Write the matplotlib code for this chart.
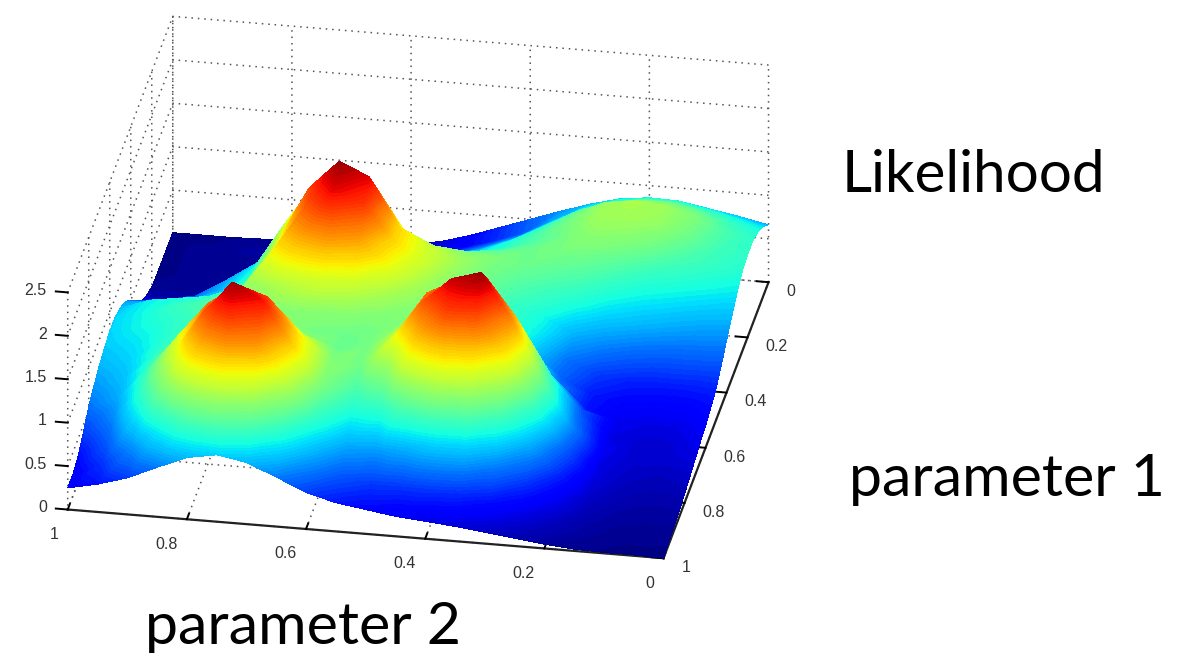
"""Likelihood surface over two parameters"""

import matplotlib

matplotlib.use("Agg")
import matplotlib.pyplot as plt
import matplotlib.tri as mtri
import numpy as np
from mpl_toolkits.mplot3d import proj3d

# Grid positions
param_1 = [i / 20 for i in range(21)]
param_2 = [1 - i / 20 for i in range(21)]
param_ticks = [0, 0.2, 0.4, 0.6, 0.8, 1]
param_tick_labels = ["0", "0.2", "0.4", "0.6", "0.8", "1"]
height_ticks = [0, 0.5, 1, 1.5, 2, 2.5]
height_tick_labels = ["0", "0.5", "1", "1.5", "2", "2.5"]

# Heights: one row per param_1, one column per param_2
likelihood = [
    [.01, .01, .01, .02, .02, .02, .03, .03, .1, .16, .26, .38, .5, .62, .73, .82, .86, .85, .79, .73, .66],
    [.01, .02, .04, .05, .05, .06, .07, .08, .13, .2, .28, .38, .5, .68, .84, .94, 1.0, 1.0, .94, .87, .8],
    [.01, .02, .03, .03, .04, .08, .13, .2, .22, .3, .4, .5, .62, .8, .98, 1.1, 1.15, 1.15, 1.08, .98, .9],
    [.01, .02, .03, .04, .06, .15, .3, .35, .35, .42, .52, .62, .75, .92, 1.1, 1.25, 1.3, 1.27, 1.18, 1.03, .95],
    [.02, .03, .04, .07, .2, .45, .58, .65, .52, .58, .65, .75, .88, 1.02, 1.15, 1.27, 1.28, 1.25, 1.13, 1.0, .95],
    [.08, .06, .06, .15, .45, .8, 1.0, 1.05, .95, .9, .85, .85, .95, 1.05, 1.14, 1.22, 1.2, 1.13, 1.03, .97, .92],
    [.18, .16, .15, .35, .75, 1.2, 1.48, 1.6, 1.56, 1.1, 1.05, 1.05, 1.08, 1.12, 1.15, 1.13, 1.07, .97, .93, .88, .83],
    [.3, .38, .45, .65, .85, 1.37, 1.85, 2.08, 1.9, 1.4, 1.25, 1.2, 1.17, 1.12, 1.08, 1.03, .93, .85, .8, .75, .72],
    [.5, .5, .55, .7, .9, 1.38, 1.97, 2.3, 2.15, 1.6, 1.4, 1.27, 1.13, 1.05, .98, .9, .78, .72, .66, .62, .6],
    [.65, .68, .7, .78, .95, 1.4, 1.9, 2.15, 2.0, 1.6, 1.4, 1.21, 1.08, .97, .88, .7, .6, .52, .48, .48, .47],
    [.73, .85, .9, .95, 1.05, 1.48, 1.7, 1.82, 1.72, 1.5, 1.3, 1.15, 1.05, .95, .84, .55, .42, .36, .34, .34, .36],
    [.78, .87, .97, 1.03, 1.13, 1.26, 1.37, 1.43, 1.39, 1.29, 1.21, 1.15, 1.11, .98, .72, .5, .34, .28, .26, .26, .3],
    [.78, .86, .93, 1.01, 1.08, 1.17, 1.21, 1.21, 1.2, 1.17, 1.19, 1.3, 1.33, 1.22, .95, .58, .32, .22, .2, .2, .25],
    [.75, .81, .92, 1.03, 1.11, 1.19, 1.18, 1.14, 1.12, 1.14, 1.27, 1.58, 1.73, 1.65, 1.3, .85, .48, .2, .16, .17, .22],
    [.7, .77, .94, 1.13, 1.31, 1.38, 1.32, 1.2, 1.11, 1.15, 1.37, 1.85, 2.02, 2.08, 1.65, 1.05, .55, .22, .16, .16, .18],
    [.63, .73, .98, 1.29, 1.59, 1.72, 1.68, 1.42, 1.18, 1.14, 1.45, 1.9, 2.2, 2.3, 1.8, 1.15, .62, .2, .14, .12, .14],
    [.55, .68, 1.02, 1.45, 1.85, 2.08, 1.98, 1.58, 1.2, 1.04, 1.18, 1.65, 1.95, 1.92, 1.55, .98, .5, .18, .11, .09, .1],
    [.42, .6, .98, 1.4, 1.9, 2.28, 2.1, 1.62, 1.14, .89, .93, 1.2, 1.38, 1.33, 1.05, .68, .36, .14, .08, .06, .07],
    [.3, .5, .84, 1.25, 1.65, 1.88, 1.78, 1.36, .93, .68, .64, .7, .79, .78, .6, .4, .22, .1, .05, .04, .04],
    [.25, .4, .62, .9, 1.17, 1.29, 1.2, .93, .66, .48, .41, .4, .41, .38, .3, .2, .12, .06, .03, .02, .02],
    [.25, .32, .42, .57, .71, .77, .71, .57, .42, .33, .28, .23, .2, .17, .13, .09, .05, .02, .01, .01, 0],
]

plt.rcParams["font.family"] = ["Liberation Sans", "DejaVu Sans"]
plt.rcParams["grid.color"] = "#555555"
plt.rcParams["grid.linestyle"] = (0, (1, 3.2))
plt.rcParams["grid.linewidth"] = 1.1

fig = plt.figure(figsize=(11.93, 6.53), dpi=100)
ax = fig.add_axes([-0.0745, -0.1332, 0.83, 1.35], projection="3d", proj_type="ortho")
ax.view_init(elev=27.6, azim=100)
ax.set_box_aspect((600, 600, 243), zoom=0.98)
ax.set_xlim(0, 1)
ax.set_ylim(0, 1)
ax.set_zlim(0, 2.5)
ax.patch.set_alpha(0)

ax.set_xticks(param_ticks)
ax.set_yticks(param_ticks)
ax.set_zticks(height_ticks)
ax.xaxis.set_tick_params(label1On=False)
ax.yaxis.set_tick_params(label1On=False)
ax.zaxis.set_tick_params(label1On=False)
ax.zaxis.set_ticks_position("upper")
ax.zaxis._get_tickdir = lambda position: 0  # height ticks point sideways, not along the wall
for axis in (ax.xaxis, ax.yaxis, ax.zaxis):
    axis.set_pane_color((1, 1, 1, 0))
    axis.pane.set_edgecolor((1, 1, 1, 0))
    axis.line.set_color("#222222")
    axis.line.set_linewidth(1.6)
    axis._axinfo["tick"]["inward_factor"] = 0
    axis._axinfo["tick"]["outward_factor"] = 0.25
    axis._axinfo["tick"]["linewidth"] = {True: 1.4, False: 1.0}
ax.zaxis.line.set_color((1, 1, 1, 0))
proj = ax.get_proj()

overlay = fig.add_axes([0, 0, 1, 1])
overlay.set_axis_off()
overlay.set_xlim(0, 1)
overlay.set_ylim(0, 1)


def box_label(p2, p1, height, label, ha):
    """Writes a tick label at a spot of the 3d box."""
    tx, ty, _ = proj3d.proj_transform(p2, p1, height, proj)
    overlay.text(tx, ty, label, color="#333333", fontsize=11.5, ha=ha, va="center", transform=ax.transData)


# Tick labels placed by hand, mplot3d pushes them too far along the box
for tick, label in zip(param_ticks, param_tick_labels):
    box_label(tick, 1.09, 0, label, "right")
    box_label(-0.03, tick, -0.09, label, "left")
for tick, label in zip(height_ticks, height_tick_labels):
    box_label(1.035, 1, tick, label, "right")

# Painted one strip at a time, far edge to near edge, coloured by height
p2_grid, p1_grid = np.meshgrid(param_2, param_1)
heights = np.array(likelihood)
sx, sy, _ = proj3d.proj_transform(p2_grid.ravel(), p1_grid.ravel(), heights.ravel(), proj)
sx = np.asarray(sx).reshape(heights.shape)
sy = np.asarray(sy).reshape(heights.shape)
levels = np.linspace(-0.01, 2.35, 90)
for row in range(len(param_1) - 1):
    n = len(param_2)
    tris = []
    for col in range(n - 1):
        tris.append([col, col + 1, n + col])
        tris.append([col + 1, n + col + 1, n + col])
    strip = mtri.Triangulation(sx[row:row + 2].ravel(), sy[row:row + 2].ravel(), tris)
    overlay.tricontourf(
        strip, heights[row:row + 2].ravel(), levels=levels, cmap="jet",
        antialiased=False, transform=ax.transData,
    )
overlay.set_xlim(0, 1)
overlay.set_ylim(0, 1)

fig.text(842 / 1193, 1 - 176 / 653, "Likelihood", fontsize=42, family="Lato", va="center")
fig.text(849 / 1193, 1 - 479 / 653, "parameter 1", fontsize=42.5, family="Lato", va="center")
fig.text(145 / 1193, 1 - 627 / 653, "parameter 2", fontsize=42.5, family="Lato", va="center")

plt.savefig("out.png", dpi=100)
